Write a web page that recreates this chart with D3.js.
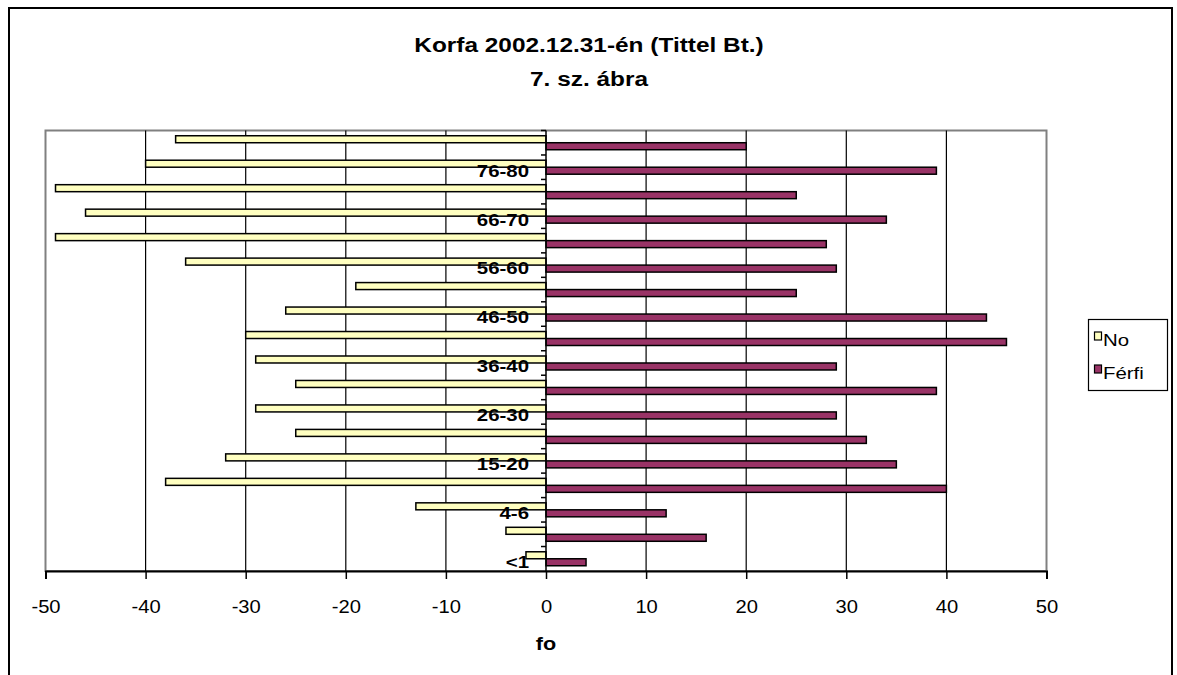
<!DOCTYPE html>
<html>
<head>
<meta charset="utf-8">
<script src="https://cdn.jsdelivr.net/npm/d3@7"></script>
<style>
  html, body { margin: 0; padding: 0; background: #fff; }
  svg { display: block; font-family: "Liberation Sans", Arial, sans-serif; }
</style>
</head>
<body>
<svg id="chart" width="1177" height="675"></svg>
<script>
// Age groups, youngest first (drawn bottom to top)
const ageGroups = ["<1", "1-3", "4-6", "7-14", "15-20", "21-25", "26-30", "31-35", "36-40",
                   "41-45", "46-50", "51-55", "56-60", "61-65", "66-70", "71-75", "76-80", "80<"];
// Women shown to the left of zero (negative head counts)
const noValues = [-2, -4, -13, -38, -32, -25, -29, -25, -29, -30, -26, -19, -36, -49, -46, -49, -40, -37];
// Men shown to the right of zero
const ferfiValues = [4, 16, 12, 40, 35, 32, 29, 39, 29, 46, 44, 25, 29, 28, 34, 25, 39, 20];
const seriesNames = ["No", "Férfi"];
const xTicks = [-50, -40, -30, -20, -10, 0, 10, 20, 30, 40, 50];
const titleLines = ["Korfa 2002.12.31-én (Tittel Bt.)", "7. sz. ábra"];
const xAxisTitle = "fo";

const colors = { "No": "#ffffc0", "Férfi": "#993366" };

// Widen rendered text horizontally (the chart's lettering is broad)
function widen(sel, k) {
  sel.each(function () {
    const len = this.getComputedTextLength();
    d3.select(this).attr("textLength", len * k).attr("lengthAdjust", "spacingAndGlyphs");
  });
}

const svg = d3.select("#chart");
const plot = { left: 45.5, right: 1046.5, top: 130.5, bottom: 571 };

// Outer chart frame
svg.append("rect")
  .attr("x", 9).attr("y", 8).attr("width", 1163).attr("height", 700)
  .attr("fill", "#fff").attr("stroke", "#000").attr("stroke-width", 2);

// Titles, centred on the chart area
svg.append("g").selectAll("text").data(titleLines).join("text")
  .attr("x", 589).attr("y", (d, i) => 52 + i * 34)
  .attr("text-anchor", "middle")
  .attr("font-size", 20).attr("font-weight", "bold")
  .text(d => d)
  .call(widen, 1.22);

const x = d3.scaleLinear().domain([-50, 50]).range([plot.left, plot.right]);
const y = d3.scaleBand().domain(ageGroups).range([plot.bottom, plot.top]).padding(0);
// Two bars per age group, side by side, with a 150% gap
const ySub = d3.scaleBand().domain(seriesNames).range([0, y.bandwidth()])
  .paddingInner(0).paddingOuter(0.75);

// Plot area border (grey)
svg.append("rect")
  .attr("x", plot.left).attr("y", plot.top)
  .attr("width", plot.right - plot.left).attr("height", plot.bottom - plot.top)
  .attr("fill", "none").attr("stroke", "#808080").attr("stroke-width", 2);

// Vertical gridlines
svg.append("g").selectAll("line")
  .data(xTicks.filter(t => t !== -50 && t !== 50 && t !== 0))
  .join("line")
  .attr("x1", d => x(d)).attr("x2", d => x(d))
  .attr("y1", plot.top).attr("y2", plot.bottom)
  .attr("stroke", "#000").attr("stroke-width", 1.2);

// Bars
const rows = ageGroups.map((g, i) => ({ group: g, No: noValues[i], "Férfi": ferfiValues[i] }));
const barG = svg.append("g");
seriesNames.forEach(s => {
  barG.append("g").selectAll("rect").data(rows).join("rect")
    .attr("x", d => x(Math.min(0, d[s])))
    .attr("width", d => Math.abs(x(d[s]) - x(0)))
    .attr("y", d => y(d.group) + ySub(s))
    .attr("height", ySub.bandwidth())
    .attr("fill", colors[s])
    .attr("stroke", "#000").attr("stroke-width", 1.5);
});

// X axis
const xAxis = d3.axisBottom(x).tickValues(xTicks).tickSize(8).tickPadding(21)
  .tickFormat(d => String(d));
const xg = svg.append("g").attr("transform", `translate(0,${plot.bottom})`).call(xAxis);
xg.select(".domain").attr("stroke", "#000").attr("stroke-width", 2);
xg.selectAll(".tick line").attr("stroke", "#000").attr("stroke-width", 1.5);
xg.selectAll(".tick text").attr("font-size", 18).attr("fill", "#000")
  .attr("font-family", "Liberation Sans, Arial, sans-serif")
  .call(widen, 1.12);

// Category axis at zero: line and boundary ticks
const zx = x(0);
svg.append("line").attr("x1", zx).attr("x2", zx).attr("y1", plot.top).attr("y2", plot.bottom)
  .attr("stroke", "#000").attr("stroke-width", 1.5);
svg.append("g").selectAll("line").data(ageGroups).join("line")
  .attr("x1", zx - 5).attr("x2", zx)
  .attr("y1", d => y(d)).attr("y2", d => y(d))
  .attr("stroke", "#000").attr("stroke-width", 1.5);

// Category labels (every other group)
const yAxis = d3.axisLeft(y).tickValues(ageGroups.filter((d, i) => i % 2 === 0))
  .tickSize(0).tickPadding(17);
const yg = svg.append("g").attr("transform", `translate(${zx},0)`).call(yAxis);
yg.select(".domain").remove();
yg.selectAll(".tick text").attr("font-size", 17).attr("font-weight", "bold")
  .attr("fill", "#000").attr("dy", "0.55em")
  .attr("font-family", "Liberation Sans, Arial, sans-serif")
  .call(widen, 1.2);

// Axis title
svg.append("text").attr("x", x(0)).attr("y", 650).attr("text-anchor", "middle")
  .attr("font-size", 18).attr("font-weight", "bold").text(xAxisTitle)
  .call(widen, 1.2);

// Legend
const lg = svg.append("g");
lg.append("rect").attr("x", 1088.5).attr("y", 319.5).attr("width", 79).attr("height", 71)
  .attr("fill", "#fff").attr("stroke", "#000").attr("stroke-width", 1.2);
seriesNames.forEach((s, i) => {
  const ly = 332 + i * 33;
  lg.append("rect").attr("x", 1094.5).attr("y", ly).attr("width", 7).attr("height", 8)
    .attr("fill", colors[s]).attr("stroke", "#000").attr("stroke-width", 1.2);
  lg.append("text").attr("x", 1103).attr("y", ly + 14).attr("font-size", 17).text(s)
    .call(widen, 1.2);
});
</script>
</body>
</html>
